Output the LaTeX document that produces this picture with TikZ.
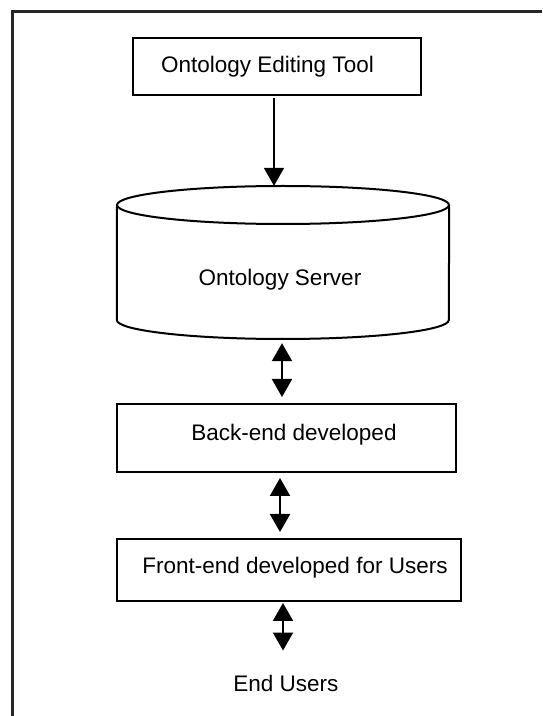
\documentclass[tikz,border=0pt]{standalone}
\usepackage{fontspec}
\setmainfont{Liberation Sans}
\usetikzlibrary{arrows.meta,calc}
\begin{document}
\begin{tikzpicture}[x=1pt,y=1pt,
  box/.style={draw=black, line width=2pt, inner sep=0pt, fill=white},
  lbl/.style={inner sep=0pt, font=\fontsize{22.5}{26}\selectfont, text=black},
  arr/.style={line width=2pt, -{Triangle[length=18pt,width=20pt]}},
  darr/.style={line width=2pt, {Triangle[length=18pt,width=20pt]}-{Triangle[length=18pt,width=20pt]}},
  frame/.style={line width=2.5pt, draw=black!85}]
\useasboundingbox (0,0) rectangle (542,716);
% partial outer frame (top and left edges only)
\coordinate (fcorner) at (12.5,704.5);
\coordinate (fright) at (542,704.5);
\coordinate (fbottom) at (12.5,0);
\draw[frame] (fright) -- (fcorner) -- (fbottom);

% Ontology Editing Tool
\node[box, minimum width=288pt, minimum height=57pt] (edit) at (277,649.5) {};
\node[lbl] (editt) at (267.5,649) {Ontology Editing Tool};

% Ontology Server cylinder
\node[inner sep=0pt, minimum width=332pt, minimum height=153pt] (srv) at (283,453.5) {};
\draw[line width=2pt, fill=white] ($(srv.west)+(0,57.5)$) -- ($(srv.west)+(0,-57.5)$)
  arc[start angle=180, end angle=360, x radius=166pt, y radius=19pt]
  -- ($(srv.east)+(0,57.5)$);
\draw[line width=2pt] ($(srv.center)+(0,57.5)$) ellipse[x radius=166pt, y radius=19pt];
\node[lbl] (srvt) at (280,436) {Ontology Server};

% Back-end developed
\node[box, minimum width=339pt, minimum height=68pt] (back) at (286.5,278) {};
\node[lbl] (backt) at (294,281) {Back-end developed};

% Front-end developed for Users
\node[box, minimum width=344pt, minimum height=62pt] (front) at (289,146) {};
\node[lbl] (frontt) at (295,148) {Front-end developed for Users};

% End Users
\node[lbl] (users) at (286,33) {End Users};

% connectors
\draw[arr] ([xshift=-3pt,yshift=-2pt]edit.south) -- ([xshift=-9pt]srv.north);
\draw[darr] ([xshift=-1pt,yshift=-4pt]srv.south) -- ([xshift=-4.5pt,yshift=6pt]back.north);
\draw[darr] ([xshift=-6.5pt,yshift=-5pt]back.south) -- ([xshift=-9pt,yshift=6pt]front.north);
\draw[darr] ([xshift=-6pt,yshift=-1pt]front.south) -- ([xshift=-3pt,yshift=24pt]users.north);
\end{tikzpicture}
\end{document}
